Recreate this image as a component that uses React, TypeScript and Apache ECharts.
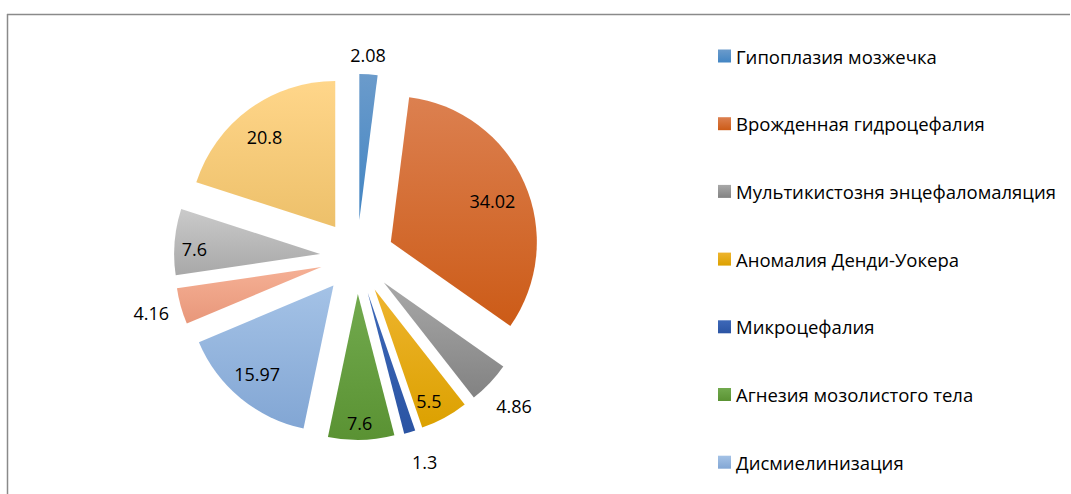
import React, { useEffect, useRef } from "react";
import * as echarts from "echarts";

const categories = [
  "Гипоплазия мозжечка",
  "Врожденная гидроцефалия",
  "Мультикистозня энцефаломаляция",
  "Аномалия Денди-Уокера",
  "Микроцефалия",
  "Агнезия мозолистого тела",
  "Дисмиелинизация",
  "Категория 8",
  "Категория 9",
  "Категория 10",
];
const values = [2.08, 34.02, 4.86, 5.5, 1.3, 7.6, 15.97, 4.16, 7.6, 20.8];
const legendNames = categories.slice(0, 7);

const colorTop = [
  "#6B9BCB", "#DC8050", "#A8A8A8", "#EEB42E", "#3D68B8",
  "#72AA4E", "#A4C2E6", "#F5B095", "#CACACA", "#FFD68A",
];
const colorBottom = [
  "#4285C3", "#CC5B17", "#828282", "#DCA100", "#2B54A3",
  "#5A9233", "#82A6D4", "#E8977A", "#A8A8A8", "#EDC06A",
];
const labelOffsets = [
  [4, -89], [32, -10], [75, 71], [18, 45], [35, 97],
  [0, 53], [-28, 30], [-97, 26], [-50, 1], [-26, -29],
];

const FONT = "'Open Sans', sans-serif";

export default function App() {
  const ref = useRef<HTMLDivElement>(null);
  useEffect(() => {
    if (!ref.current) return;
    const chart = echarts.init(ref.current, null, { renderer: "svg" });
    const data = values.map((v, i) => ({
      value: v,
      name: categories[i],
      selected: true,
      itemStyle: {
        color: new echarts.graphic.LinearGradient(0, 0, 0, 1, [
          { offset: 0, color: colorTop[i] },
          { offset: 1, color: colorBottom[i] },
        ]),
      },
    }));
    chart.setOption({
      animation: false,
      backgroundColor: "#ffffff",
      graphic: [
        { type: "line", shape: { x1: 7, y1: 14.5, x2: 1070, y2: 14.5 }, style: { stroke: "#8a8a8a", lineWidth: 1.5 } },
        { type: "line", shape: { x1: 7.5, y1: 14, x2: 7.5, y2: 494 }, style: { stroke: "#8a8a8a", lineWidth: 1.5 } },
      ],
      legend: {
        data: legendNames,
        orient: "vertical",
        left: 718,
        top: 44,
        padding: 0,
        itemWidth: 13,
        itemHeight: 13,
        itemGap: 43.7,
        icon: "rect",
        selectedMode: false,
        textStyle: { fontFamily: FONT, fontSize: 18.5, color: "#000", lineHeight: 24 },
      },
      series: [
        {
          type: "pie",
          center: [357, 257],
          radius: 146,
          startAngle: 90,
          clockwise: true,
          selectedMode: "multiple",
          selectedOffset: 37,
          avoidLabelOverlap: false,
          minShowLabelAngle: 0,
          label: {
            show: true,
            position: "inside",
            formatter: "{c}",
            fontFamily: FONT,
            fontSize: 18,
            color: "#000",
          },
          labelLayout: (p: any) => ({
            dx: labelOffsets[p.dataIndex][0],
            dy: labelOffsets[p.dataIndex][1],
          }),
          labelLine: { show: false },
          emphasis: { disabled: true },
          select: { itemStyle: { borderWidth: 0 } },
          data,
        },
      ],
    });
    return () => chart.dispose();
  }, []);
  return <div ref={ref} style={{ position: "absolute", left: 0, top: 0, width: 1071, height: 494 }} />;
}
